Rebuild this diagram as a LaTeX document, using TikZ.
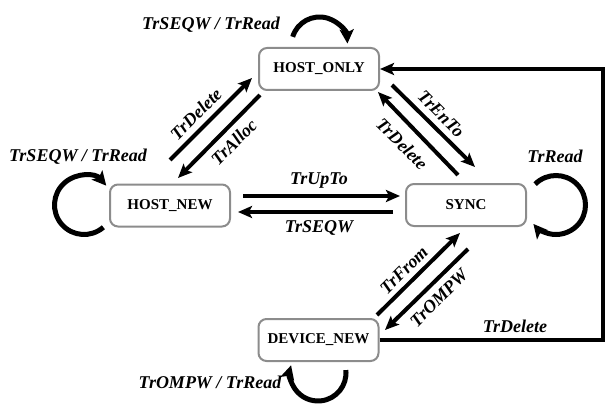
\documentclass[tikz,border=0pt]{standalone}
\usepackage{fontspec}
\setmainfont{Liberation Serif}
\usetikzlibrary{arrows.meta}
\definecolor{boxline}{RGB}{140,140,140}
\begin{document}
\begin{tikzpicture}[x=1pt,y=-1pt,
  state/.style={draw=boxline, line width=2pt, rounded corners=8pt,
    minimum width=120pt, minimum height=42pt, fill=white,
    font=\fontsize{15}{18}\selectfont\bfseries},
  trans/.style={line width=4pt, -{Stealth[length=14pt,width=12pt,inset=3pt]}},
  loopline/.style={line width=5pt, -{Stealth[length=14pt,width=14pt,inset=3pt]}},
  lbl/.style={font=\fontsize{18}{21}\selectfont\bfseries\itshape, inner sep=0pt}]
\useasboundingbox (0,0) rectangle (606,404);

% states
\node[state] (ho) at (319,69) {HOST\_ONLY};
\node[state] (hn) at (170,205.5) {HOST\_NEW};
\node[state] (sy) at (466,205) {SYNC};
\node[state] (dn) at (318.5,340) {DEVICE\_NEW};

% paired transitions
\draw[trans] ([shift={(0,-45.5)}]hn.center) -- ([shift={(-67,9)}]ho.center);
\draw[trans] ([shift={(-59,26)}]ho.center) -- ([shift={(8,-27.5)}]hn.center);
\draw[trans] ([shift={(73,16)}]ho.center) -- ([shift={(9,-38)}]sy.center);
\draw[trans] ([shift={(-8,-30)}]sy.center) -- ([shift={(59,23)}]ho.center);
\draw[trans] ([shift={(73,-9.5)}]hn.center) -- ([shift={(-66,-9)}]sy.center);
\draw[trans] ([shift={(-73,7)}]sy.center) -- ([shift={(68,6.5)}]hn.center);
\draw[trans] ([shift={(58.5,-25)}]dn.center) -- ([shift={(-6,28)}]sy.center);
\draw[trans] ([shift={(2,44)}]sy.center) -- ([shift={(66.5,-10)}]dn.center);

% long way round from DEVICE_NEW back to HOST_ONLY
\coordinate (rt) at (603,0);
\draw[trans] (dn.east) -- (dn.east -| rt) |- (ho.east);

% self loops
\draw[loopline] ([shift={(-26.3,-32.2)}]ho.center) arc[start angle=197, end angle=357, radius=28];
\draw[loopline] ([shift={(-66.65,21.76)}]hn.center) arc[start angle=49, end angle=319, radius=29.5];
\draw[loopline] ([shift={(69.14,-20.86)}]sy.center) arc[start angle=225, end angle=500, radius=29.5];
\draw[loopline] ([shift={(27.35,30.07)}]dn.center) arc[start angle=-6, end angle=196, radius=28];

% transition labels
\node[lbl] (l1) at (211,25) {TrSEQW / TrRead};
\node[lbl] (l2) at (78,157) {TrSEQW / TrRead};
\node[lbl] (l3) at (210,382) {TrOMPW / TrRead};
\node[lbl] (l4) at (555,156) {TrRead};
\node[lbl,rotate=45] (l5) at (196,114) {TrDelete};
\node[lbl,rotate=45] (l6) at (234,142) {TrAlloc};
\node[lbl,rotate=-45] (l7) at (441,114) {TrEnTo};
\node[lbl,rotate=-45] (l8) at (402,144) {TrDelete};
\node[lbl,rotate=45] (l9) at (404,270) {TrFrom};
\node[lbl,rotate=45] (l10) at (439,298) {TrOMPW};
\node[lbl] (l11) at (319,181) {TrUpTo};
\node[lbl] (l12) at (319,228) {TrSEQW};
\node[lbl] (l13) at (515,326) {TrDelete};
\end{tikzpicture}
\end{document}
